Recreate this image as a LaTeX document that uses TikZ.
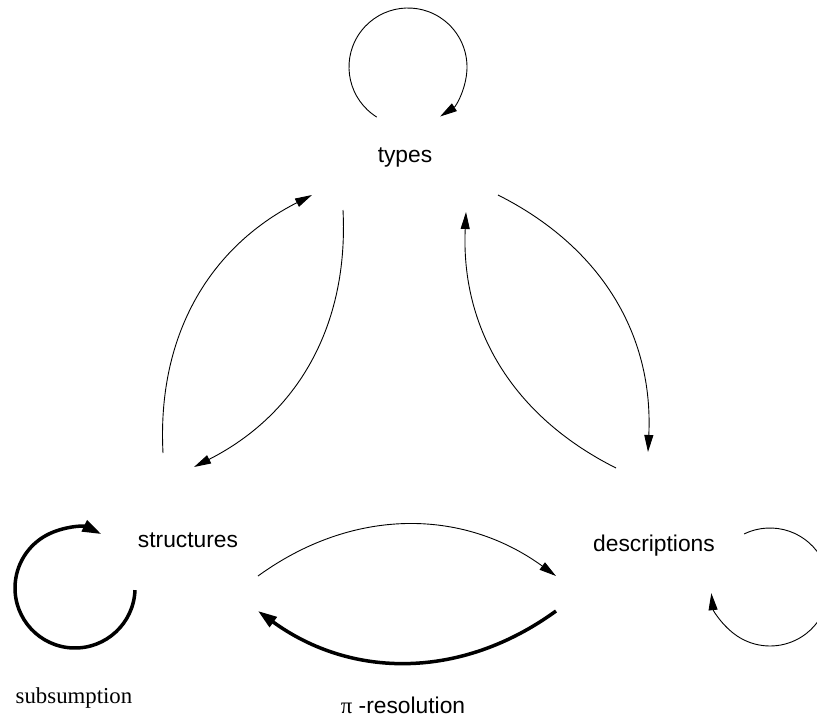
\documentclass[tikz,border=0pt]{standalone}
\usepackage{fontspec}
\setmainfont{Liberation Sans}
\newfontfamily\seriffont{Liberation Serif}
\usetikzlibrary{arrows.meta}

\begin{document}
\begin{tikzpicture}[x=1pt,y=1pt,
  lbl/.style={font=\fontsize{22.8}{26}\selectfont, inner sep=0pt, anchor=base},
  serlbl/.style={font=\seriffont\fontsize{22.8}{26}\selectfont, inner sep=0pt, anchor=base},
  wire/.style={line width=0.9pt, -{Triangle[length=17pt,width=9pt]}},
  heavy/.style={line width=3.5pt, -{Triangle[length=19pt,width=12pt]}}]
\useasboundingbox (0,0) rectangle (817,-717);

% labels
\node[lbl] (types) at (405,-162) {types};
\node[lbl] (structures) at (188,-547) {structures};
\node[lbl] (descriptions) at (654,-551) {descriptions};
\node[serlbl] (subsumption) at (74,-703) {subsumption};
\node[lbl] (piresolution) at (403,-713) {{\seriffont π} -resolution};

% end points of the connectors between the labels
\coordinate (st-out) at (163,-453);  \coordinate (ty-in1) at (312,-195);
\coordinate (ty-out1) at (343,-210); \coordinate (st-in) at (194,-467);
\coordinate (ty-out2) at (498,-195); \coordinate (de-in) at (648,-452);
\coordinate (de-out) at (616,-468);  \coordinate (ty-in2) at (466,-212);
\coordinate (st-r) at (258,-576);    \coordinate (de-l) at (556,-576);
\coordinate (de-r) at (556,-611);    \coordinate (st-l) at (258,-611);

% centres of the self loops
\coordinate (ty-loop) at (408,-67);
\coordinate (st-loop) at (75,-588);
\coordinate (de-loop) at (770,-587);

% structures <-> types
\draw[wire] (st-out) to[bend left=33] (ty-in1);
\draw[wire] (ty-out1) to[bend left=33] (st-in);
% types <-> descriptions
\draw[wire] (ty-out2) to[bend left=33] (de-in);
\draw[wire] (de-out) to[bend left=33] (ty-in2);
% structures <-> descriptions
\draw[wire] (st-r) to[bend left=36] (de-l);
\draw[heavy] (de-r) to[bend left=36] (st-l);

% self loops
\draw[wire] ([shift={(238:59)}]ty-loop) arc[start angle=238, end angle=-57, radius=59];
\draw[heavy] ([shift={(-2:60)}]st-loop) arc[start angle=-2, end angle=-296, radius=60];
\draw[wire] ([shift={(116:59)}]de-loop) arc[start angle=116, end angle=-174, radius=59];
\end{tikzpicture}
\end{document}
